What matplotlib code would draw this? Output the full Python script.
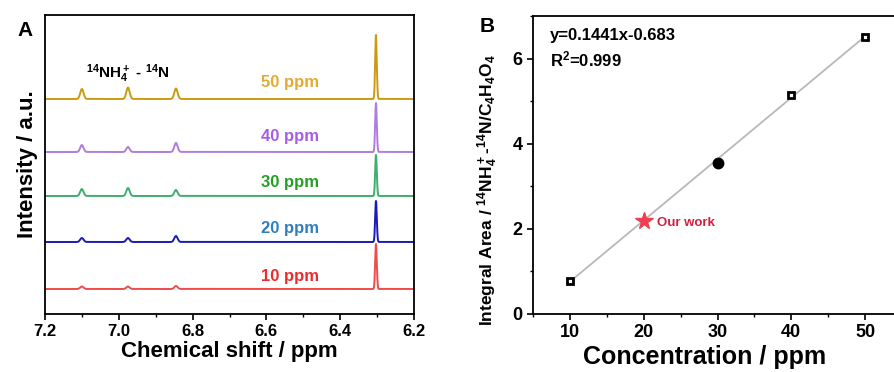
"""NMR spectra of 14NH4+ standards (A) and calibration curve (B)."""
import matplotlib
matplotlib.use("Agg")
import matplotlib.pyplot as plt
import numpy as np
from matplotlib.ticker import MultipleLocator

plt.rcParams["font.family"] = ["Liberation Sans", "DejaVu Sans"]
plt.rcParams["font.weight"] = "bold"
plt.rcParams["mathtext.fontset"] = "custom"
plt.rcParams["mathtext.rm"] = "Liberation Sans:bold"
plt.rcParams["mathtext.bf"] = "Liberation Sans:bold"
plt.rcParams["mathtext.default"] = "bf"

# ── panel A data: peak tables per standard ──
conc_labels = ["10 ppm", "20 ppm", "30 ppm", "40 ppm", "50 ppm"]
baselines = [2.5, 7.2, 11.8, 16.2, 21.5]
line_colors = ["#EE4B4B", "#1A1AB8", "#3EAE6E", "#B07CE0", "#CC9A12"]
text_colors = ["#F02A2A", "#2E7FBF", "#23A023", "#A55CE8", "#E5AA30"]
label_y = [3.7, 8.6, 13.2, 17.7, 23.1]
peak_pos = [7.100, 6.975, 6.845, 6.303]
peak_sigma = [0.0045, 0.0045, 0.0045, 0.0022]
peak_heights = [
    [0.25, 0.25, 0.3, 4.5],   # 10 ppm
    [0.4, 0.4, 0.6, 4.1],     # 20 ppm
    [0.7, 0.8, 0.6, 4.1],     # 30 ppm
    [0.7, 0.5, 0.9, 4.9],     # 40 ppm
    [1.0, 1.15, 1.05, 6.4],   # 50 ppm
]

# ── panel B data ──
cal_conc = [10, 30, 40, 50]
cal_area = [0.78, 3.55, 5.15, 6.5]
our_conc = 20
our_area = 2.18
slope, intercept = 0.1441, -0.683

W, H = 894, 372
fig = plt.figure(figsize=(W / 100, H / 100), dpi=100)
axA = fig.add_axes([45 / W, 1 - 314 / H, (414 - 45) / W, (314 - 15) / H])
axB = fig.add_axes([533 / W, 1 - 314 / H, (902 - 533) / W, (314 - 16) / H])

# ── A ──
shift = np.linspace(6.2, 7.2, 4000)
for base, heights, lc, tc, ly, lab in zip(
    baselines, peak_heights, line_colors, text_colors, label_y, conc_labels
):
    y = np.full_like(shift, base)
    for pos, sg, h in zip(peak_pos, peak_sigma, heights):
        y += h * np.exp(-0.5 * ((shift - pos) / sg) ** 2)
    axA.plot(shift, y, color=lc, lw=1.4)
    axA.text(6.535, ly, lab, color=tc, fontsize=12, fontweight="bold",
             ha="center", va="center")

axA.text(6.975, 24.0, r"$^{14}$NH$_4^+$ - $^{14}$N", fontsize=11,
         ha="center", va="center")
axA.set_xlim(7.2, 6.2)
axA.set_ylim(0, 29.9)
axA.set_yticks([])
axA.xaxis.set_major_locator(MultipleLocator(0.2))
axA.xaxis.set_minor_locator(MultipleLocator(0.1))
axA.tick_params(axis="x", which="major", direction="out", length=4,
                width=1.2, labelsize=12)
axA.tick_params(axis="x", which="minor", direction="out", length=2.5,
                width=1.0)
axA.set_xlabel("Chemical shift / ppm", fontsize=16, fontweight="bold",
               labelpad=1)
axA.set_ylabel("Intensity / a.u.", fontsize=16, fontweight="bold",
               labelpad=5)
for s in axA.spines.values():
    s.set_linewidth(1.3)

# ── B ──
fit_x = np.array([10, 50])
axB.plot(fit_x, slope * fit_x + intercept, color="#B8B8B8", lw=1.3, zorder=1)
axB.plot(cal_conc[0:1] + cal_conc[2:], cal_area[0:1] + cal_area[2:],
         ls="none", marker="s", ms=5, mfc="white", mec="black", mew=2.0,
         zorder=3)
axB.plot(cal_conc[1], cal_area[1], ls="none", marker="o", ms=7.5,
         color="black", zorder=3)
axB.plot(our_conc, our_area, ls="none", marker="*", ms=13,
         color="#EE4050", zorder=4)
axB.text(our_conc + 1.8, our_area - 0.05, "Our work", color="#D22040",
         fontsize=9.5, fontweight="bold", ha="left", va="center")
axB.text(0.045, 0.935, "y=0.1441x-0.683", transform=axB.transAxes,
         fontsize=12, fontweight="bold", ha="left", va="center")
axB.text(0.045, 0.855, r"R$^2$=0.999", transform=axB.transAxes,
         fontsize=12, fontweight="bold", ha="left", va="center")

axB.set_xlim(5, 55)
axB.set_ylim(0, 7)
axB.set_xticks([10, 20, 30, 40, 50])
axB.set_yticks([0, 2, 4, 6])
axB.xaxis.set_minor_locator(MultipleLocator(5))
axB.yaxis.set_minor_locator(MultipleLocator(1))
axB.tick_params(which="major", direction="out", length=4, width=1.2,
                labelsize=13)
axB.tick_params(which="minor", direction="out", length=2.5, width=1.0)
axB.set_xlabel("Concentration / ppm", fontsize=18, fontweight="bold")
axB.xaxis.set_label_coords(0.466, -0.105)
axB.set_ylabel(r"Integral Area / $^{14}$NH$_4^+$-$^{14}$N/C$_4$H$_4$O$_4$",
               fontsize=12.5, fontweight="bold")
axB.yaxis.set_label_coords(-0.09, 0.416)
for s in axB.spines.values():
    s.set_linewidth(1.3)

fig.text(25 / W, 1 - 30 / H, "A", fontsize=15, fontweight="bold",
         ha="center", va="center")
fig.text(487 / W, 1 - 27 / H, "B", fontsize=15, fontweight="bold",
         ha="center", va="center")

fig.savefig("out.png", dpi=100)
